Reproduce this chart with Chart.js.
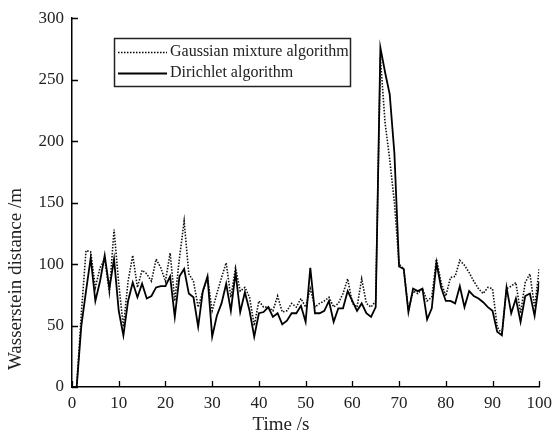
<!DOCTYPE html>
<html>
<head>
<meta charset="utf-8">
<script src="https://cdn.jsdelivr.net/npm/chart.js@4.4.1/dist/chart.umd.min.js"></script>
<style>
  html, body { margin: 0; padding: 0; background: #fff; }
  #wrap { width: 558px; height: 437px; position: relative; }
</style>
</head>
<body>
<div id="wrap"><canvas id="c" width="558" height="437"></canvas></div>
<script>
// ---- Data ----
const timeSeconds = [1,2,3,4,5,6,7,8,9,10,11,12,13,14,15,16,17,18,19,20,21,22,23,24,25,26,27,28,29,30,31,32,33,34,35,36,37,38,39,40,41,42,43,44,45,46,47,48,49,50,51,52,53,54,55,56,57,58,59,60,61,62,63,64,65,66,67,68,69,70,71,72,73,74,75,76,77,78,79,80,81,82,83,84,85,86,87,88,89,90,91,92,93,94,95,96,97,98,99,100];
const gaussianMixture = [0,60,111,110,81,97,104,77,128,84,49,86,107,81,95,92,86,104,97,86,109,70,105,135,92,86,65,78,89,62,76,89,101,73,97,78,81,73,50,70,65,65,62,74,61,62,68,65,72,65,80,65,68,70,73,65,68,76,88,68,65,88,68,65,70,268,215,185,150,100,96,62,78,76,80,70,73,104,85,74,89,90,103,99,93,86,80,76,81,80,49,43,80,82,85,60,85,92,65,96];
const dirichlet = [0,50,78,105,70,86,107,80,104,62,42,70,85,73,84,72,74,81,82,82,90,57,90,96,76,73,49,78,90,41,58,68,84,62,93,61,77,62,41,60,61,65,57,60,51,54,60,60,66,53,97,60,60,62,70,53,64,64,78,70,62,68,60,57,65,276,256,238,190,98,96,61,80,78,80,55,64,101,81,70,70,68,82,65,78,74,72,69,65,62,45,42,81,60,72,53,74,76,58,86];
const seriesLabels = ["Gaussian mixture algorithm", "Dirichlet algorithm"];
const xTicks = [0,10,20,30,40,50,60,70,80,90,100];
const yTicks = [0,50,100,150,200,250,300];
const xTitle = "Time /s";
const yTitle = "Wasserstein distance /m";

const SERIF = "'Liberation Serif', 'Times New Roman', serif";
const toPoints = (arr) => arr.map((v, i) => ({ x: timeSeconds[i], y: v }));

const decorPlugin = {
  id: 'decor',
  afterDraw(chart) {
    const ctx = chart.ctx;
    const xs = chart.scales.x, ys = chart.scales.y;
    const area = chart.chartArea;
    ctx.save();
    // inward ticks
    ctx.strokeStyle = '#000';
    ctx.lineWidth = 1.3;
    ctx.beginPath();
    xTicks.forEach(t => {
      const px = Math.round(xs.getPixelForValue(t)) + 0.5;
      ctx.moveTo(px, area.bottom);
      ctx.lineTo(px, area.bottom - 6);
    });
    yTicks.forEach(t => {
      const py = Math.round(ys.getPixelForValue(t)) + 0.5;
      ctx.moveTo(area.left, py);
      ctx.lineTo(area.left + 6, py);
    });
    ctx.stroke();

    // axis titles
    ctx.fillStyle = '#222';
    ctx.font = "19px " + SERIF;
    ctx.textAlign = 'center';
    ctx.textBaseline = 'middle';
    ctx.fillText(xTitle, 281, 425);
    ctx.translate(16, 279);
    ctx.rotate(-Math.PI / 2);
    ctx.fillText(yTitle, 0, 0);
    ctx.restore();

    // legend
    ctx.save();
    ctx.strokeStyle = '#222';
    ctx.lineWidth = 1.5;
    ctx.strokeRect(114.5, 38.5, 236, 48);
    ctx.font = "16px " + SERIF;
    ctx.fillStyle = '#222';
    ctx.textAlign = 'left';
    ctx.textBaseline = 'middle';
    const rows = [{ y: 52, dash: [1.5, 1.5], w: 1.6 }, { y: 73, dash: [], w: 1.8 }];
    rows.forEach((r, i) => {
      ctx.beginPath();
      ctx.setLineDash(r.dash);
      ctx.lineWidth = r.w;
      ctx.strokeStyle = '#000';
      ctx.moveTo(118, r.y + 0.5);
      ctx.lineTo(167, r.y + 0.5);
      ctx.stroke();
      ctx.setLineDash([]);
      ctx.fillText(seriesLabels[i], 170, r.y);
    });
    ctx.restore();
  }
};

new Chart(document.getElementById('c'), {
  type: 'line',
  data: {
    datasets: [
      {
        label: seriesLabels[1],
        data: toPoints(dirichlet),
        borderColor: '#000',
        borderWidth: 1.8,
        pointRadius: 0,
        tension: 0,
        fill: false
      },
      {
        label: seriesLabels[0],
        data: toPoints(gaussianMixture),
        borderColor: '#111',
        borderWidth: 1.6,
        borderDash: [1.5, 1.5],
        pointRadius: 0,
        tension: 0,
        fill: false
      }
    ]
  },
  options: {
    responsive: false,
    animation: false,
    devicePixelRatio: 1,
    layout: { padding: { top: 16, right: 17, left: 0, bottom: 0 } },
    plugins: { legend: { display: false }, tooltip: { enabled: false } },
    scales: {
      x: {
        type: 'linear',
        min: 0, max: 100,
        afterFit: (s) => { s.height = 50; },
        afterBuildTicks: (s) => { s.ticks = xTicks.map(v => ({ value: v })); },
        grid: { display: false, drawTicks: false },
        border: { display: true, color: '#000', width: 1.5 },
        ticks: { padding: 6, color: '#222', font: { family: SERIF, size: 17 }, maxRotation: 0 }
      },
      y: {
        min: 0, max: 300,
        afterFit: (s) => { s.width = 72; },
        afterBuildTicks: (s) => { s.ticks = yTicks.map(v => ({ value: v })); },
        grid: { display: false, drawTicks: false },
        border: { display: true, color: '#000', width: 1.5 },
        ticks: { padding: 8, color: '#222', font: { family: SERIF, size: 17 } }
      }
    }
  },
  plugins: [decorPlugin]
});
</script>
</body>
</html>
